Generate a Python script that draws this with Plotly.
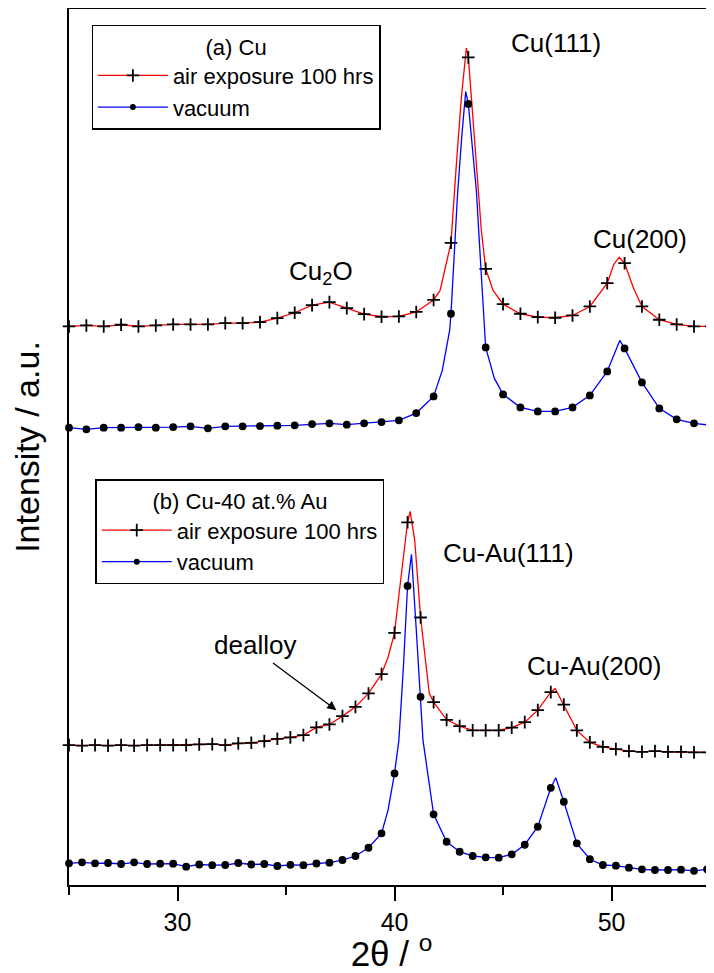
import plotly.graph_objects as go

# ---------------- data (intensity in arbitrary units, stacked offsets as plotted) ----------------
# Panel (a) Cu: markers every 0.8 deg from 25.0
cu_mk_x = [round(25.0 + 0.8 * k, 1) for k in range(38)]
cu_air_mk = [559, 560, 559, 560.7, 559, 560, 561, 561, 561, 562.3, 562.3, 563.3, 567.3, 572.7,
             580.3, 583.3, 577.3, 571.3, 568.7, 569, 573.5, 585.5, 642.7, 828.3, 616.7, 581.3,
             571.7, 568.3, 567.7, 570, 579, 602.3, 622.3, 579, 565.7, 561, 559, 559]
cu_air_extra_x = [42.1, 42.4, 42.85, 43.08, 43.31, 43.54, 43.77, 44.0, 44.54, 50.1, 50.35, 51.0]
cu_air_extra_y = [595, 622, 721.7, 788.3, 837.7, 788.3, 721.7, 655, 595, 621, 628.3, 598]

cu_vac_mk = [457.7, 456, 457.7, 457.7, 458.3, 457.7, 458.3, 459, 457, 459, 459, 459.3, 459.7, 460,
             461.3, 462, 460.7, 462, 463.3, 465, 472.3, 489, 571.7, 781.7, 538, 491, 478,
             474, 474, 478, 490, 514, 537, 503, 477, 466, 462, 460]
cu_vac_extra_x = [42.2, 42.54, 42.9, 43.1, 43.28, 43.6, 43.77, 44.0, 44.6, 50.38]
cu_vac_extra_y = [515, 555, 690, 750, 794, 730, 695, 610, 507, 545]

# Panel (b) Cu-40 at.% Au: markers every 0.6 deg from 25.0
au_mk_x = [round(25.0 + 0.6 * k, 1) for k in range(50)]
au_air_mk = [140, 139.5, 140, 139.5, 140, 139.5, 140, 140, 140, 140, 140.7, 141, 140, 141.7, 142.3,
             144, 146.3, 147.7, 150, 157.7, 160.7, 169, 178.3, 191.7, 211, 252.3, 363, 267.7, 183,
             165.3, 159, 154.7, 154.7, 154.7, 157.5, 163, 175, 193, 180.5, 154.7, 142.7, 138.3,
             136, 134, 133.3, 134, 133.3, 133.3, 132.7, 132.7]
au_air_extra_x = [39.7, 40.2, 40.48, 40.72, 40.93, 41.47, 41.6, 47.4]
au_air_extra_y = [228, 290, 345, 374, 345, 212, 192, 196.7]

au_vac_mk = [21.7, 22.7, 21.7, 22, 21, 22.7, 21, 21.3, 21.3, 18.3, 20.5, 19.8, 20, 22, 20.5, 21,
             19, 20.2, 19.8, 21.5, 22.3, 25, 29, 37.3, 51.7, 111.7, 299.3, 188.3, 70.7, 43.3,
             33.3, 29, 27.7, 27.3, 30.7, 40.3, 58.3, 97.3, 83.3, 41.7, 25.8, 20, 19.3, 17.3,
             15.7, 15, 15, 15.3, 14.2, 15.7]
au_vac_extra_x = [39.7, 40.2, 40.4, 40.78, 41.0, 41.31, 47.43]
au_vac_extra_y = [75, 145, 215, 331, 256, 145, 107.3]

# text labels
legend_a_title = "(a) Cu"
legend_b_title = "(b) Cu-40 at.% Au"
name_air = "air exposure 100 hrs"
name_vac = "vacuum"
x_ticks = [30, 40, 50]
x_minor = [25, 35, 45, 55]

FONT = "Liberation Sans, Arial, sans-serif"
RED = "#FF0000"
BLUE = "#0000FF"


def merged(mk_x, mk_y, ex_x, ex_y):
    pts = sorted(list(zip(mk_x, mk_y)) + list(zip(ex_x, ex_y)))
    return [p[0] for p in pts], [p[1] for p in pts]


fig = go.Figure()

series = [
    (cu_mk_x, cu_air_mk, cu_air_extra_x, cu_air_extra_y, RED, "cross-thin", 9),
    (cu_mk_x, cu_vac_mk, cu_vac_extra_x, cu_vac_extra_y, BLUE, "circle", 6),
    (au_mk_x, au_air_mk, au_air_extra_x, au_air_extra_y, RED, "cross-thin", 9),
    (au_mk_x, au_vac_mk, au_vac_extra_x, au_vac_extra_y, BLUE, "circle", 6),
]

for mx, my, ex, ey, col, sym, sz in series:
    lx, ly = merged(mx, my, ex, ey)
    fig.add_trace(go.Scatter(x=lx, y=ly, mode="lines", line=dict(color=col, width=1.3),
                             showlegend=False, hoverinfo="skip"))
    fig.add_trace(go.Scatter(x=mx, y=my, mode="markers", cliponaxis=False,
                             marker=dict(symbol=sym, size=sz, color="black",
                                         line=dict(color="black", width=1.8)),
                             showlegend=False))

for leg in ["legend", "legend2"]:
    fig.add_trace(go.Scatter(x=[None], y=[None], mode="lines+markers", name=name_air, legend=leg,
                             line=dict(color=RED, width=1.3),
                             marker=dict(symbol="cross-thin", size=9, color="black",
                                         line=dict(color="black", width=1.8))))
    fig.add_trace(go.Scatter(x=[None], y=[None], mode="lines+markers", name=name_vac, legend=leg,
                             line=dict(color=BLUE, width=1.3),
                             marker=dict(symbol="circle", size=6, color="black")))

leg_common = dict(xanchor="left", yanchor="top", bgcolor="white", bordercolor="black",
                  borderwidth=1.3, font=dict(family=FONT, size=22, color="black"),
                  itemwidth=70, tracegroupgap=0, itemclick=False, itemdoubleclick=False)
fig.update_layout(
    legend=dict(x=0.035, y=0.982, title=dict(text=legend_a_title, side="top center",
                                             font=dict(family=FONT, size=22)), **leg_common),
    legend2=dict(x=0.041, y=0.463, title=dict(text=legend_b_title, side="top center",
                                              font=dict(family=FONT, size=22)), **leg_common),
)

# annotations
ann_font = dict(family=FONT, size=26, color="black")
labels = [
    ("Cu(111)", 47.42, 842.5),
    ("Cu(200)", 51.32, 646.7),
    ("Cu<sub>2</sub>O", 36.6, 613),
    ("Cu-Au(111)", 45.26, 332),
    ("Cu-Au(200)", 49.19, 219),
    ("dealloy", 33.56, 240),
]
for t, x, y in labels:
    fig.add_annotation(x=x, y=y, text=t, showarrow=False, xanchor="center", yanchor="middle",
                       font=ann_font)
fig.add_annotation(x=37.32, y=175, ax=34.33, ay=223.3, axref="x", ayref="y", text="",
                   showarrow=True, arrowhead=2, arrowsize=1.4, arrowwidth=1.3, arrowcolor="black")

# The page body adds an 8 px margin, so the figure is 8 px smaller than the window each way.
fig.update_layout(
    width=706, height=965,
    margin=dict(l=61, r=0, t=1, b=88, autoexpand=False),
    paper_bgcolor="white", plot_bgcolor="white",
    font=dict(family=FONT, color="black"),
    xaxis=dict(range=[25, 54.72], tickvals=x_ticks, ticks="outside", ticklen=14, tickwidth=1.5,
               tickcolor="black", showline=True, linecolor="black", linewidth=1.5, mirror=True,
               showgrid=False, zeroline=False, automargin=False,
               minor=dict(tickvals=x_minor, ticks="outside", ticklen=8, tickwidth=1.5,
                          tickcolor="black"),
               tickfont=dict(family=FONT, size=25, color="black"),
               title=dict(text="2θ / <sup>o</sup>", font=dict(family=FONT, size=35, color="black"),
                          standoff=7)),
    yaxis=dict(range=[0, 876.7], showticklabels=False, ticks="", showline=True, linecolor="black",
               linewidth=1.5, showgrid=False, zeroline=False, automargin=False,
               title=dict(text="Intensity / a.u.", font=dict(family=FONT, size=34, color="black"),
                          standoff=18)),
)

fig.write_html("out.html")
